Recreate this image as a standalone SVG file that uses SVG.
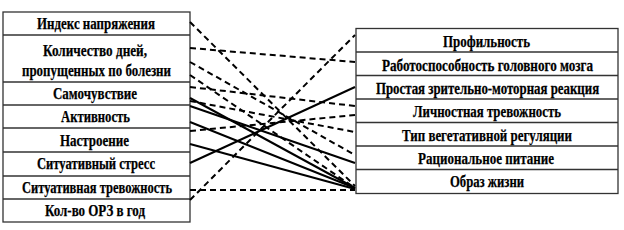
<svg xmlns="http://www.w3.org/2000/svg" width="624" height="230" viewBox="0 0 624 230">
<style>
.box{fill:#fff;stroke:#333;stroke-width:1.3}
.sep{stroke:#333;stroke-width:1.3}
.t{font-family:"Liberation Serif","Times New Roman",serif;font-weight:bold;font-size:16px;fill:#000;stroke:#000;stroke-width:0.25;text-anchor:middle}
.s{stroke:#000;stroke-width:2;fill:none}
.d{stroke:#000;stroke-width:2;fill:none;stroke-dasharray:6 4}
</style>
<rect width="624" height="230" fill="#fff"/>
<g id="left-block">
<rect class="box" x="3" y="12" width="187" height="210"/>
<g class="sep">
<line x1="3" y1="35" x2="190" y2="35"/>
<line x1="3" y1="82" x2="190" y2="82"/>
<line x1="3" y1="105" x2="190" y2="105"/>
<line x1="3" y1="128" x2="190" y2="128"/>
<line x1="3" y1="152" x2="190" y2="152"/>
<line x1="3" y1="176" x2="190" y2="176"/>
<line x1="3" y1="199" x2="190" y2="199"/>
</g>
</g>
<g id="n-index"><text class="t" x="96" y="29" textLength="118" lengthAdjust="spacingAndGlyphs">Индекс напряжения</text></g>
<g id="n-days"><text class="t" x="95" y="55.5" textLength="104" lengthAdjust="spacingAndGlyphs">Количество дней,</text><text class="t" x="96.5" y="75.5" textLength="149" lengthAdjust="spacingAndGlyphs">пропущенных по болезни</text></g>
<g id="n-samo"><text class="t" x="95" y="98.5" textLength="84" lengthAdjust="spacingAndGlyphs">Самочувствие</text></g>
<g id="n-akt"><text class="t" x="95.5" y="122" textLength="69" lengthAdjust="spacingAndGlyphs">Активность</text></g>
<g id="n-nastr"><text class="t" x="94.5" y="145.5" textLength="69" lengthAdjust="spacingAndGlyphs">Настроение</text></g>
<g id="n-stress"><text class="t" x="96" y="169" textLength="118" lengthAdjust="spacingAndGlyphs">Ситуативный стресс</text></g>
<g id="n-strev"><text class="t" x="97" y="192.5" textLength="150" lengthAdjust="spacingAndGlyphs">Ситуативная тревожность</text></g>
<g id="n-orz"><text class="t" x="95" y="215.5" textLength="100" lengthAdjust="spacingAndGlyphs">Кол-во ОРЗ в год</text></g>
<g id="right-block">
<rect class="box" x="356" y="28.5" width="262" height="165"/>
<g class="sep">
<line x1="356" y1="52" x2="618" y2="52"/>
<line x1="356" y1="75.5" x2="618" y2="75.5"/>
<line x1="356" y1="99" x2="618" y2="99"/>
<line x1="356" y1="122.5" x2="618" y2="122.5"/>
<line x1="356" y1="146" x2="618" y2="146"/>
<line x1="356" y1="169.5" x2="618" y2="169.5"/>
</g>
</g>
<g id="n-prof"><text class="t" x="486.5" y="47" textLength="87" lengthAdjust="spacingAndGlyphs">Профильность</text></g>
<g id="n-rab"><text class="t" transform="translate(487.5,70.5) scale(0.8,1)" x="0" y="0" textLength="264" lengthAdjust="spacingAndGlyphs">Работоспособность головного мозга</text></g>
<g id="n-prost"><text class="t" transform="translate(487.5,93.5) scale(0.8,1)" x="0" y="0" textLength="279" lengthAdjust="spacingAndGlyphs">Простая зрительно-моторная реакция</text></g>
<g id="n-lich"><text class="t" x="487" y="117" textLength="148" lengthAdjust="spacingAndGlyphs">Личностная тревожность</text></g>
<g id="n-tip"><text class="t" x="487" y="140.5" textLength="170" lengthAdjust="spacingAndGlyphs">Тип вегетативной регуляции</text></g>
<g id="n-rac"><text class="t" x="486" y="163.5" textLength="136" lengthAdjust="spacingAndGlyphs">Рациональное питание</text></g>
<g id="n-obraz"><text class="t" x="487" y="187" textLength="74" lengthAdjust="spacingAndGlyphs">Образ жизни</text></g>
<g id="connectors">
<line class="d" x1="190" y1="22" x2="355" y2="186"/>
<line class="d" x1="190" y1="48" x2="355" y2="62"/>
<line class="d" x1="190" y1="62" x2="355" y2="155"/>
<line class="d" x1="190" y1="75" x2="355" y2="188"/>
<line class="d" x1="190" y1="87" x2="355" y2="106"/>
<line class="d" x1="190" y1="101" x2="355" y2="132"/>
<line class="d" x1="190" y1="131" x2="355" y2="115"/>
<line class="d" x1="190" y1="190" x2="355" y2="190"/>
<line class="d" x1="190" y1="200" x2="355" y2="35"/>
<line class="s" x1="190" y1="98" x2="355" y2="188"/>
<line class="s" x1="190" y1="106" x2="355" y2="163"/>
<line class="s" x1="190" y1="122" x2="355" y2="188"/>
<line class="s" x1="190" y1="144" x2="355" y2="189"/>
<line class="s" x1="190" y1="163" x2="355" y2="87"/>
</g>
</svg>
